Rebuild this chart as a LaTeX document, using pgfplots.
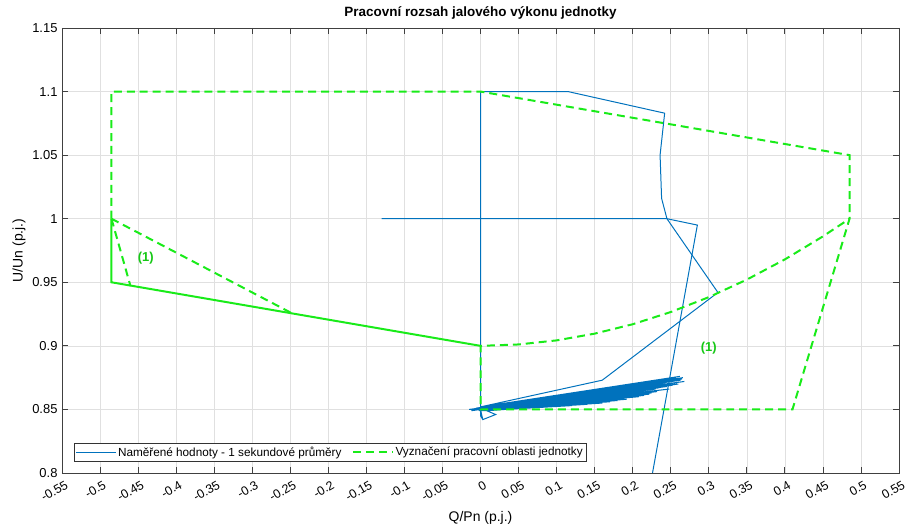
\documentclass[border=0pt]{standalone}
\usepackage{pgfplots}
\pgfplotsset{compat=1.18}
\usepackage{fontspec}
\setmainfont{Liberation Sans}
\definecolor{mblue}{RGB}{0,114,189}
\definecolor{mgreen}{RGB}{25,235,25}
\begin{document}
\begin{tikzpicture}
\begin{axis}[
  width=837bp, height=445bp, scale only axis,
  xmin=-0.55, xmax=0.55, ymin=0.8, ymax=1.15,
  xtick={-0.55,-0.5,-0.45,-0.4,-0.35,-0.3,-0.25,-0.2,-0.15,-0.1,-0.05,0,0.05,0.1,0.15,0.2,0.25,0.3,0.35,0.4,0.45,0.5,0.55},
  xticklabels={-0.55,-0.5,-0.45,-0.4,-0.35,-0.3,-0.25,-0.2,-0.15,-0.1,-0.05,0,0.05,0.1,0.15,0.2,0.25,0.3,0.35,0.4,0.45,0.5,0.55},
  ytick={0.8,0.85,0.9,0.95,1,1.05,1.1,1.15},
  yticklabels={0.8,0.85,0.9,0.95,1,1.05,1.1,1.15},
  grid=major, major grid style={black!12, line width=0.6pt},
  axis line style={black!75, line width=0.8pt},
  tick style={black!75, line width=0.8pt},
  tick align=inside, major tick length=6pt,
  xtick pos=both, ytick pos=both,
  ticklabel style={font=\fontsize{12.5}{15}\selectfont},
  xticklabel style={rotate=30, anchor=north east, xshift=2pt, yshift=-4pt},
  yticklabel style={xshift=-1pt, font=\fontsize{13}{15}\selectfont},
  title={Pracovní rozsah jalového výkonu jednotky},
  title style={font=\bfseries\fontsize{13.5}{16}\selectfont, yshift=-1pt},
  xlabel={Q/Pn (p.j.)}, ylabel={U/Un (p.j.)},
  label style={font=\fontsize{14}{16}\selectfont},
  xlabel style={yshift=-1pt},
  ylabel style={yshift=0pt},
  legend style={at={(0.014,0.025)}, anchor=south west, legend columns=2,
    font=\fontsize{11.8}{13}\selectfont, draw=black!80, fill=white,
    inner sep=2pt, /tikz/every even column/.append style={column sep=9pt}},
  legend image post style={xscale=2.3},
  clip=true,
]
% measured data (blue)
\addplot[mblue, line width=1pt] coordinates {
(0.003,0.842) (0,0.845) (0,1.1) (0.115,1.1) (0.242,1.083) (0.236,1.05) (0.238,1.016) (0.245,1.0)
(0.312,0.942) (0.16,0.873) (0.0,0.852)
(0.262,0.876) (0.002,0.850) (0.268,0.872) (-0.010,0.850) (0.255,0.873) (0.005,0.851) (0.250,0.870)
(-0.012,0.849) (0.240,0.869) (0.003,0.850) (0.265,0.874) (0.008,0.849) (0.230,0.866) (-0.005,0.850)
(0.245,0.868) (0.010,0.851) (0.220,0.864) (-0.015,0.850) (0.258,0.871) (0.006,0.849) (0.210,0.862)
(0.000,0.852) (0.235,0.867) (0.012,0.850) (0.200,0.860) (-0.008,0.850) (0.252,0.869) (0.004,0.849)
(0.190,0.858) (0.015,0.850) (0.225,0.863) (0.000,0.850) (0.180,0.857) (0.010,0.849) (0.260,0.870)
(-0.004,0.851) (0.170,0.856) (0.006,0.850) (0.248,0.872) (-0.002,0.849) (0.215,0.861) (0.008,0.851)
(0.185,0.859) (0.003,0.849) (0.160,0.855) (0.012,0.850) (0.140,0.854) (0.004,0.849) (0.120,0.853)
(0.001,0.851) (0.263,0.873) (0.004,0.850) (0.257,0.875) (-0.006,0.851) (0.238,0.870) (0.007,0.850)
(0.228,0.868) (0.002,0.849) (0.218,0.866) (0.009,0.850) (0.205,0.863) (-0.003,0.850) (0.195,0.861)
(0.005,0.849) (0.175,0.859) (0.011,0.850) (0.150,0.857) (0.002,0.850) (0.242,0.871) (0.006,0.851)
(0.233,0.869) (0.000,0.849) (0.212,0.865) (0.008,0.850) (0.198,0.862) (0.003,0.851) (0.188,0.860)
(0.000,0.850) (0.266,0.875) (0.003,0.851) (0.254,0.874) (0.001,0.849) (0.244,0.873) (0.005,0.850)
(0.236,0.872) (-0.002,0.851) (0.226,0.870) (0.004,0.849) (0.216,0.868) (0.007,0.851) (0.206,0.866)
(0.001,0.850) (0.196,0.864) (0.006,0.849) (0.186,0.862) (0.002,0.851) (0.176,0.861) (0.004,0.850)
(0.166,0.859) (0.009,0.850) (0.156,0.858) (0.003,0.849) (0.248,0.866) (0.005,0.850) (0.232,0.864)
(0.001,0.849) (0.222,0.862) (0.006,0.850) (0.208,0.860) (0.002,0.849) (0.192,0.858) (0.004,0.850)
(0.020,0.846) (0.003,0.842) (0.0,0.850) (-0.013,0.850) (0.001,0.851)
};
\addlegendentry{Naměřené hodnoty - 1 sekundové průměry}
\addplot[mblue, line width=1pt, forget plot] coordinates {
(-0.13,1.0) (0.245,1.0) (0.285,0.995) (0.22,0.78)
};
% operating region (green dashed)
\addplot[mgreen, line width=2pt, dash pattern=on 8pt off 5pt] coordinates {
(-0.485,1.0) (-0.485,1.1) (0,1.1) (0.485,1.05) (0.485,1.0) (0.41,0.85) (0,0.85) (0,0.9)
(0.05,0.9011) (0.1,0.9043) (0.15,0.9096) (0.2,0.9170) (0.25,0.9266) (0.3,0.9383)
(0.35,0.9521) (0.4,0.9680) (0.45,0.9861) (0.485,1.0)
};
\addlegendentry{Vyznačení pracovní oblasti jednotky}
\addplot[mgreen, line width=2pt, dash pattern=on 8pt off 5pt, forget plot] coordinates {
(-0.485,1.0) (-0.249,0.926)
};
\addplot[mgreen, line width=2pt, dash pattern=on 8pt off 5pt, forget plot] coordinates {
(-0.485,1.0) (-0.46,0.947)
};
\addplot[mgreen, line width=2pt, forget plot] coordinates {
(-0.485,1.0) (-0.485,0.95) (0,0.9)
};
\node[text=mgreen!85!black, font=\bfseries\fontsize{13}{15}\selectfont] at (axis cs:-0.44,0.969) {(1)};
\node[text=mgreen!85!black, font=\bfseries\fontsize{13}{15}\selectfont] at (axis cs:0.30,0.898) {(1)};
\end{axis}
\pgfresetboundingbox
\path ([shift={(-62bp,-54bp)}]current axis.south west) rectangle ([shift={(11bp,28bp)}]current axis.north east);
\end{tikzpicture}
\end{document}
